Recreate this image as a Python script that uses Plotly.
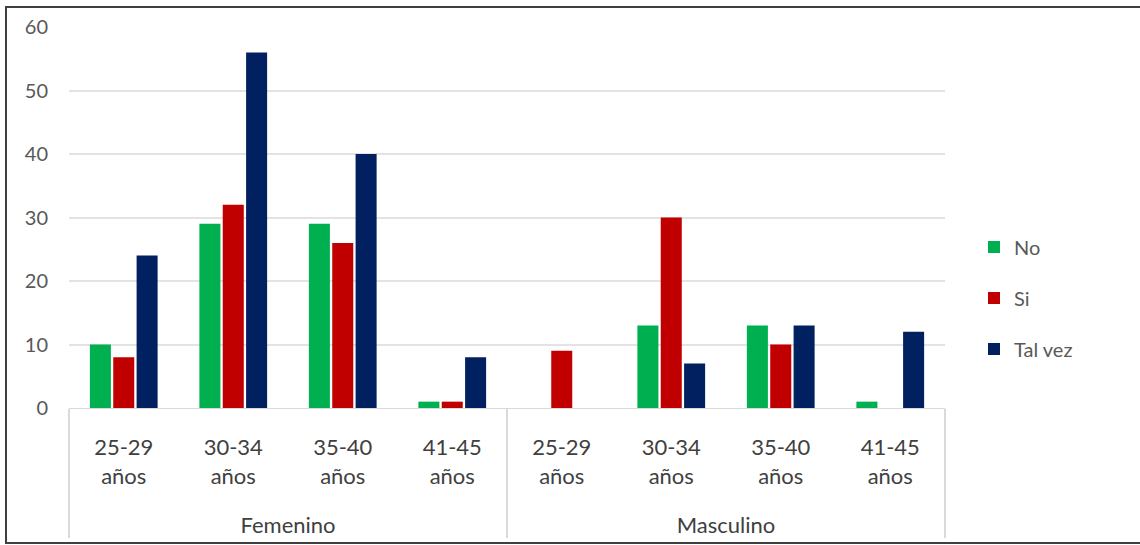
import plotly.graph_objects as go

# Survey answers by sex and age group
sexes = ["Femenino"] * 4 + ["Masculino"] * 4
pad_line = '<br><span style="font-size:76px"> </span>'
age_groups = [a + pad_line for a in
              ["25-29<br>años", "30-34<br>años", "35-40<br>años", "41-45<br>años"]] * 2

no_vals = [10, 29, 29, 1, 0, 13, 13, 1]
si_vals = [8, 32, 26, 1, 9, 30, 10, 0]
talvez_vals = [24, 56, 40, 8, 0, 7, 13, 12]

series = [
    ("No", no_vals, "#00B050"),
    ("Si", si_vals, "#C00000"),
    ("Tal vez", talvez_vals, "#002060"),
]

FONT = "Lato, 'Open Sans', sans-serif"

fig = go.Figure()
for name, vals, color in series:
    fig.add_trace(go.Bar(
        name=name,
        x=[sexes, age_groups],
        y=vals,
        marker=dict(color=color, line=dict(width=0)),
        legendgroup=name,
    ))

W, H = 1140, 545
ml, mr, mt, mb = 69, 195, 27, 137
pw = W - ml - mr
ph = H - mt - mb

fig.update_layout(
    width=W,
    height=H,
    margin=dict(l=ml, r=mr, t=mt, b=mb),
    paper_bgcolor="white",
    plot_bgcolor="white",
    barmode="group",
    bargap=0.36,
    bargroupgap=0.1,
    font=dict(family=FONT, color="#404040"),
    legend=dict(
        x=(974 - ml) / pw,
        y=(mt + ph - 298) / ph,
        xanchor="left",
        yanchor="middle",
        font=dict(size=20, color="#595959"),
        traceorder="grouped",
        tracegroupgap=22,
        itemwidth=30,
        bgcolor="rgba(0,0,0,0)",
    ),
    xaxis=dict(
        type="multicategory",
        automargin=False,
        showline=True,
        linecolor="#D9D9D9",
        linewidth=1,
        tickfont=dict(size=22, color="#404040"),
        showdividers=True,
        dividercolor="#D9D9D9",
        dividerwidth=1.5,
        ticks="",
        ticklabelstandoff=20,
    ),
    yaxis=dict(
        range=[0, 60],
        dtick=10,
        automargin=False,
        showgrid=True,
        gridcolor="#E3E3E3",
        gridwidth=1.5,
        zeroline=False,
        tickfont=dict(size=20, color="#595959"),
        ticklabelstandoff=20,
    ),
    shapes=[
        dict(
            type="rect",
            xref="paper", yref="paper",
            x0=(6 - ml) / pw, x1=(1150 - ml) / pw,
            y0=-(543 - mt - ph) / ph, y1=1 + (mt - 7) / ph,
            line=dict(color="#404040", width=2),
            fillcolor="rgba(0,0,0,0)",
            layer="above",
        )
    ],
)

fig.write_html("out.html")
